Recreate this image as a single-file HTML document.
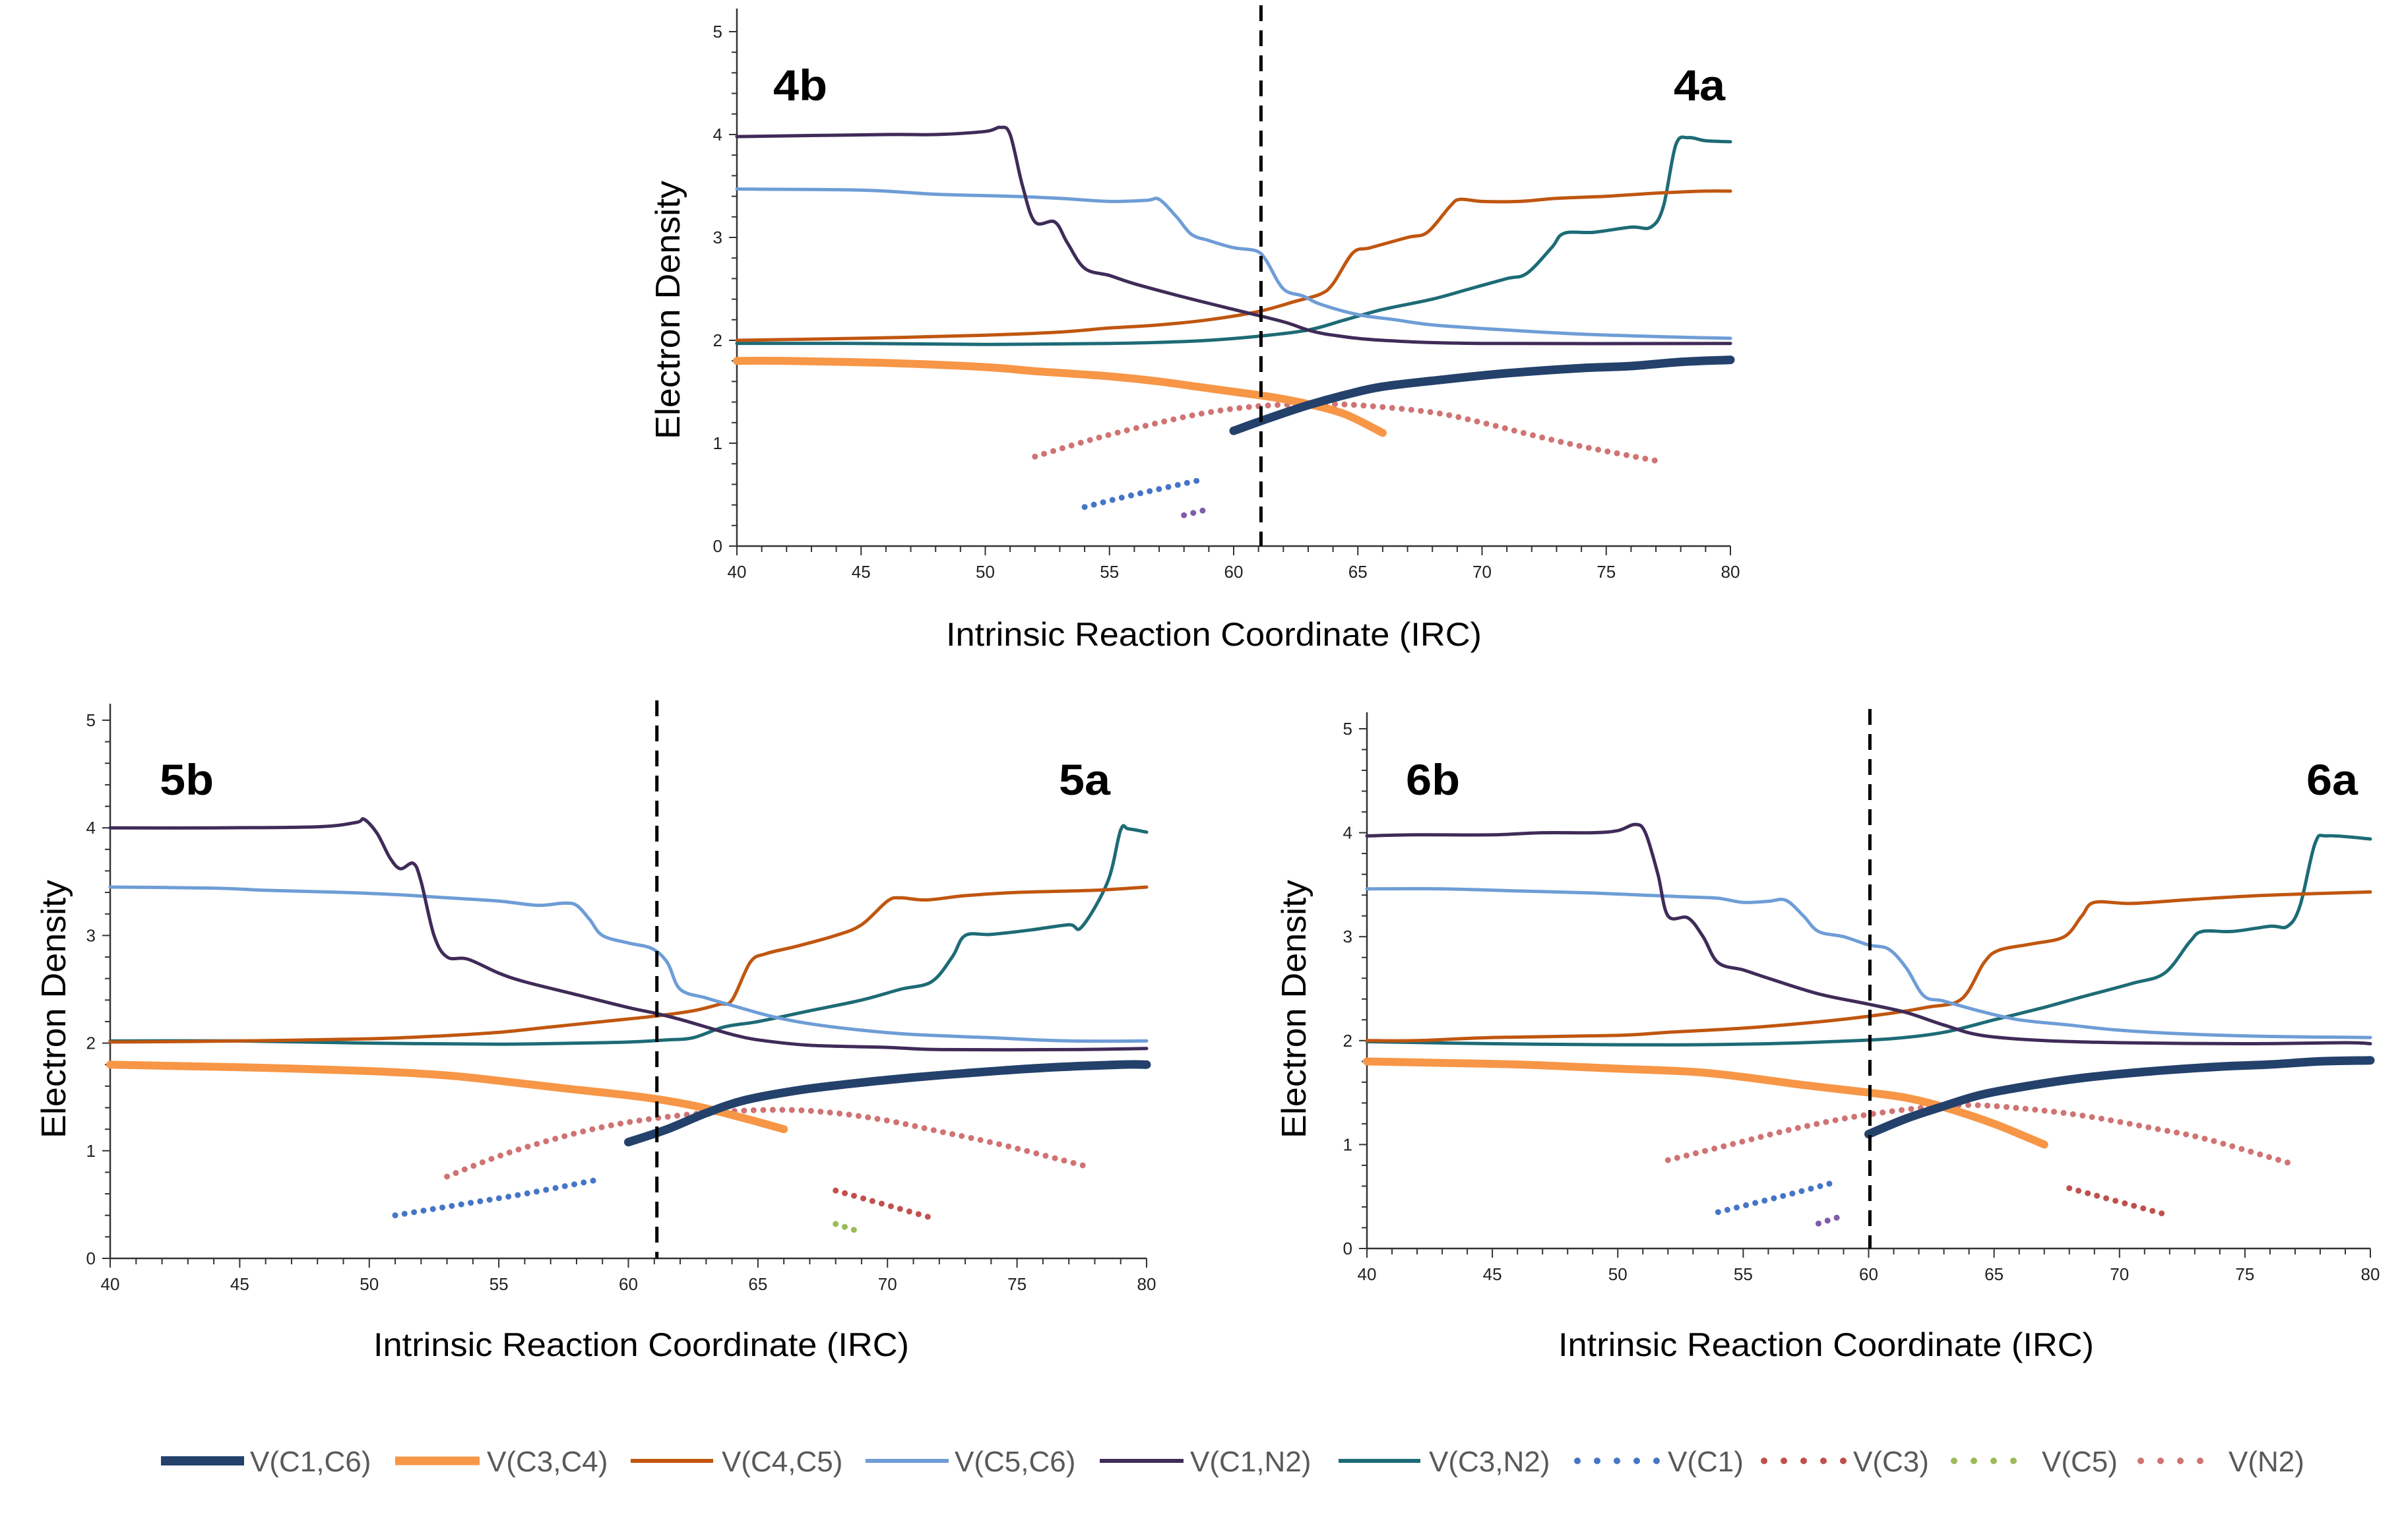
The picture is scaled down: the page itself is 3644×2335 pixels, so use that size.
<!DOCTYPE html>
<html><head><meta charset="utf-8"><style>
html,body{margin:0;padding:0;background:#fff;}
svg{display:block;}
</style></head><body>
<svg id="fig" width="3644" height="2335" viewBox="0 0 3644 2335" xmlns="http://www.w3.org/2000/svg" font-family="'Liberation Sans', sans-serif"></svg>
<script>
// ---------- Data (IRC, electron density) ----------
// Chart 4
const c4_C1C6 = [[60,1.12],[61.5,1.25],[63,1.37],[64.5,1.47],[66,1.55],[68.5,1.62],[71,1.68],[74,1.73],[76,1.75],[78,1.79],[80,1.81]];
const c4_C3C4 = [[40,1.8],[42,1.8],[46,1.78],[50,1.74],[52,1.7],[55,1.65],[57,1.6],[58.5,1.55],[60,1.5],[61.5,1.45],[63,1.38],[64.5,1.28],[66,1.1]];
const c4_C4C5 = [[40,2.0],[45,2.02],[50,2.05],[53,2.08],[55,2.12],[57,2.15],[59,2.2],[61,2.28],[62.5,2.38],[63.5,2.45],[64,2.55],[64.8,2.85],[65.5,2.9],[67,3.0],[67.8,3.05],[68.7,3.3],[69.1,3.37],[70,3.35],[71.5,3.35],[73,3.38],[75,3.4],[77,3.43],[79,3.45],[80,3.45]];
const c4_C5C6 = [[40,3.47],[45,3.46],[48,3.42],[51,3.4],[53,3.38],[55,3.35],[56.5,3.36],[57,3.37],[57.7,3.2],[58.3,3.03],[59,2.97],[60,2.9],[60.9,2.87],[61.3,2.78],[62,2.5],[62.8,2.43],[63.5,2.35],[65,2.25],[66.5,2.2],[68,2.15],[71,2.1],[74,2.06],[78,2.03],[80,2.02]];
const c4_C1N2 = [[40,3.98],[46,4.0],[48,4.0],[50,4.03],[50.6,4.07],[51,4.0],[51.5,3.5],[52,3.15],[52.8,3.15],[53.3,2.95],[54,2.7],[55,2.63],[56,2.55],[58,2.42],[60,2.3],[62,2.18],[63,2.1],[64,2.05],[66,2.0],[70,1.97],[80,1.97]];
const c4_C3N2 = [[40,1.97],[45,1.97],[50,1.96],[55,1.97],[57,1.98],[59,2.0],[61,2.04],[63,2.1],[64.5,2.2],[66,2.3],[68,2.4],[69.5,2.5],[71,2.6],[71.8,2.65],[72.8,2.9],[73.3,3.04],[74.5,3.05],[76,3.1],[76.8,3.1],[77.3,3.3],[77.8,3.9],[78.3,3.97],[79,3.94],[80,3.93]];
const c4_C1 = [[54,0.38],[56,0.5],[58.8,0.65]];
const c4_C3 = [];
const c4_C5 = [];
const c4_N2 = [[52,0.87],[54.5,1.05],[57,1.2],[59,1.3],[61,1.36],[63,1.38],[65,1.37],[68,1.3],[70,1.2],[72,1.08],[74,0.97],[77,0.83]];
const c4_X = [[58,0.3],[59,0.36]];
// Chart 5
const c5_C1C6 = [[60,1.08],[61.5,1.2],[63,1.35],[64.5,1.47],[66.5,1.56],[68.5,1.62],[70.5,1.67],[73,1.72],[76,1.77],[79,1.8],[80,1.8]];
const c5_C3C4 = [[40,1.8],[42,1.79],[46,1.77],[50,1.74],[53,1.7],[55,1.65],[57.5,1.58],[60.5,1.5],[62.5,1.42],[64.5,1.3],[66,1.2]];
const c5_C4C5 = [[40,2.01],[45,2.02],[50,2.04],[53,2.07],[55,2.1],[57,2.15],[59,2.2],[61,2.25],[62.5,2.3],[63.5,2.36],[64,2.4],[64.7,2.75],[65.3,2.83],[66.5,2.9],[68,3.0],[69,3.1],[70,3.32],[70.5,3.35],[71.5,3.33],[73,3.37],[75,3.4],[78,3.42],[80,3.45]];
const c5_C5C6 = [[40,3.45],[44,3.44],[46,3.42],[49,3.4],[51,3.38],[53,3.35],[55,3.32],[56.5,3.28],[57.5,3.3],[58,3.28],[58.5,3.15],[59,3.0],[60,2.93],[60.9,2.88],[61.5,2.75],[62,2.5],[63,2.42],[64,2.35],[65.5,2.25],[67,2.18],[69,2.12],[71,2.08],[74,2.05],[77,2.02],[80,2.02]];
const c5_C1N2 = [[40,4.0],[44,4.0],[48,4.01],[49.5,4.05],[49.8,4.08],[50.3,3.95],[50.8,3.72],[51.2,3.62],[51.7,3.67],[52,3.5],[52.5,3.0],[53,2.8],[53.8,2.78],[55,2.65],[56,2.57],[58,2.45],[60,2.33],[61,2.28],[62,2.22],[63,2.15],[64,2.08],[65,2.03],[67,1.98],[70,1.96],[72,1.94],[77,1.94],[80,1.95]];
const c5_C3N2 = [[40,2.02],[45,2.02],[50,2.0],[55,1.99],[58,2.0],[60,2.01],[61.5,2.03],[62.5,2.05],[63.7,2.15],[65,2.2],[67,2.3],[69,2.4],[70.5,2.5],[71.7,2.57],[72.5,2.8],[73,3.0],[74,3.01],[75.5,3.05],[77,3.1],[77.5,3.08],[78.5,3.5],[79,3.98],[79.3,3.99],[80,3.96]];
const c5_C1 = [[51,0.4],[53.5,0.5],[56,0.6],[58.8,0.73]];
const c5_C3 = [[68,0.63],[71.8,0.37]];
const c5_C5 = [[68,0.32],[68.9,0.25]];
const c5_N2 = [[53,0.76],[55,0.95],[57,1.1],[59,1.22],[61,1.3],[63.5,1.36],[66,1.38],[68,1.35],[70,1.28],[72,1.18],[74.5,1.05],[77.6,0.86]];
const c5_X = [];
// Chart 6
const c6_C1C6 = [[60,1.1],[61.5,1.25],[63,1.37],[64.5,1.48],[66.5,1.57],[68.5,1.64],[71,1.7],[74,1.75],[76,1.77],[78,1.8],[80,1.81]];
const c6_C3C4 = [[40,1.8],[42,1.79],[46,1.77],[50,1.73],[53,1.7],[55,1.65],[57.5,1.57],[60,1.5],[61.5,1.45],[63,1.36],[65,1.2],[67,1.0]];
const c6_C4C5 = [[40,2.0],[42,2.0],[45,2.03],[50,2.05],[52,2.08],[55,2.12],[58,2.18],[60.5,2.25],[62.3,2.32],[63.7,2.4],[64.6,2.75],[65.2,2.87],[66.5,2.93],[67.8,3.0],[68.5,3.2],[69,3.33],[70.5,3.32],[73,3.36],[76,3.4],[80,3.43]];
const c6_C5C6 = [[40,3.46],[43,3.46],[46,3.44],[49,3.42],[51,3.4],[53,3.38],[54,3.37],[55,3.33],[56,3.34],[56.7,3.35],[57.4,3.2],[58,3.05],[59,3.0],[60,2.92],[60.8,2.88],[61.5,2.7],[62.2,2.43],[63,2.38],[64.5,2.28],[66,2.2],[68,2.15],[70,2.1],[73,2.06],[76,2.04],[80,2.03]];
const c6_C1N2 = [[40,3.97],[42,3.98],[45,3.98],[47,4.0],[49,4.0],[50,4.02],[50.7,4.08],[51.1,4.0],[51.6,3.6],[52,3.2],[52.8,3.18],[53.4,3.0],[54,2.75],[55,2.68],[56,2.6],[58,2.45],[60,2.35],[61.5,2.27],[63,2.15],[64.5,2.05],[67,2.0],[70,1.98],[75,1.97],[79,1.98],[80,1.97]];
const c6_C3N2 = [[40,1.99],[45,1.97],[50,1.96],[53,1.96],[56,1.97],[58.5,1.99],[61,2.02],[63,2.08],[65,2.2],[67,2.32],[68.5,2.42],[70.5,2.55],[71.8,2.65],[72.8,2.95],[73.3,3.05],[74.5,3.05],[76,3.1],[76.7,3.1],[77.2,3.3],[77.8,3.9],[78.3,3.97],[80,3.94]];
const c6_C1 = [[54,0.35],[56.5,0.5],[58.7,0.64]];
const c6_C3 = [[68,0.58],[71.8,0.33]];
const c6_C5 = [];
const c6_N2 = [[52,0.85],[54.5,1.0],[57,1.15],[59.5,1.27],[62,1.35],[64,1.38],[66,1.35],[68.5,1.28],[71.5,1.15],[73.5,1.05],[76.8,0.82]];
const c6_X = [[58,0.24],[58.9,0.31]];

const xTicks = [40,45,50,55,60,65,70,75,80];
const yTicks = [0,1,2,3,4,5];
const legendLabels = ['V(C1,C6)','V(C3,C4)','V(C4,C5)','V(C5,C6)','V(C1,N2)','V(C3,N2)','V(C1)','V(C3)','V(C5)','V(N2)'];

const NS='http://www.w3.org/2000/svg';
const svg=document.getElementById('fig');
function mk(tag,attrs,parent){const e=document.createElementNS(NS,tag);for(const k in attrs)e.setAttribute(k,attrs[k]);(parent||svg).appendChild(e);return e;}

const styles = {
  C1C6:{c:'#24416B',w:13,dot:false},
  C3C4:{c:'#F79646',w:12,dot:false},
  C4C5:{c:'#C0560F',w:5,dot:false},
  C5C6:{c:'#6E9DD6',w:5,dot:false},
  C1N2:{c:'#3F2B58',w:5,dot:false},
  C3N2:{c:'#1D6B76',w:5,dot:false},
  C1:{c:'#4575C6',w:9,dot:true},
  C3:{c:'#C0504D',w:9,dot:true},
  C5:{c:'#9BBB59',w:9,dot:true},
  N2:{c:'#D07373',w:9,dot:true},
  X:{c:'#7F5BA8',w:9,dot:true}
};

function smoothPath(pts){
  if(pts.length<2)return '';
  let d='M'+pts[0][0]+','+pts[0][1];
  for(let i=0;i<pts.length-1;i++){
    const p0=pts[i-1]||pts[i],p1=pts[i],p2=pts[i+1],p3=pts[i+2]||p2;
    const c1x=p1[0]+(p2[0]-p0[0])/6,c1y=p1[1]+(p2[1]-p0[1])/6;
    const c2x=p2[0]-(p3[0]-p1[0])/6,c2y=p2[1]-(p3[1]-p1[1])/6;
    d+=' C'+c1x.toFixed(1)+','+c1y.toFixed(1)+' '+c2x.toFixed(1)+','+c2y.toFixed(1)+' '+p2[0].toFixed(1)+','+p2[1].toFixed(1);
  }
  return d;
}

function drawChart(cfg){
  const g=mk('g',{});
  
  
  const X=v=>cfg.x0+(v-40)/40*(cfg.x1-cfg.x0);
  const Y=v=>cfg.y0-(v/5)*(cfg.y0-cfg.y5);
  const ya=mk('line',{x1:cfg.x0,y1:cfg.y0,x2:cfg.x0,y2:cfg.ytop,stroke:'#333',"stroke-width":2.5},g);
  
  
  const xa=mk('line',{x1:cfg.x0,y1:cfg.y0,x2:cfg.x1,y2:cfg.y0,stroke:'#333',"stroke-width":2.5},g);
  
  
  for(let v=40;v<=80;v++){mk('line',{x1:X(v),y1:cfg.y0,x2:X(v),y2:cfg.y0+(v%5===0?14:9),stroke:'#333',"stroke-width":2},g);}
  for(let k=0;k<=25;k++){const v=k*0.2;mk('line',{x1:cfg.x0,y1:Y(v),x2:cfg.x0-(k%5===0?12:8),y2:Y(v),stroke:'#333',"stroke-width":2},g);}
  xTicks.forEach(v=>{const t=mk('text',{x:X(v),y:cfg.y0+48,"font-size":26,"text-anchor":"middle",fill:'#222'},g);t.textContent=v;
    
    });
  yTicks.forEach(v=>{const t=mk('text',{x:cfg.x0-22,y:Y(v)+9,"font-size":26,"text-anchor":"end",fill:'#222'},g);t.textContent=v;
    
    });
  const yt=mk('text',{x:0,y:0,"font-size":52,"text-anchor":"middle","dominant-baseline":"central",fill:'#000',transform:`translate(${cfg.ytx},${cfg.yty}) rotate(-90)`,textLength:392,lengthAdjust:'spacingAndGlyphs'},g);
  yt.textContent='Electron Density';
  
  
  const xt=mk('text',{x:cfg.xtx,y:cfg.xty+17,"font-size":50,"text-anchor":"middle",fill:'#000',textLength:812,lengthAdjust:'spacingAndGlyphs'},g);
  xt.textContent='Intrinsic Reaction Coordinate (IRC)';
  
  
  const lb=mk('text',{x:cfg.lbx,y:cfg.lby+24,"font-size":66,"font-weight":"bold","text-anchor":"middle",fill:'#000',textLength:82,lengthAdjust:'spacingAndGlyphs'},g);
  lb.textContent=cfg.id+'b';
  
  
  const la=mk('text',{x:cfg.lax,y:cfg.lby+24,"font-size":66,"font-weight":"bold","text-anchor":"middle",fill:'#000',textLength:78,lengthAdjust:'spacingAndGlyphs'},g);
  la.textContent=cfg.id+'a';
  
  
  const order=['C3N2','C4C5','C5C6','C1N2','N2','C1','X','C3','C5','C3C4','C1C6'];
  order.forEach(k=>{
    const data=cfg.series[k]; if(!data||data.length<2)return;
    const st=styles[k];
    const pts=data.map(p=>[X(p[0]),Y(p[1])]);
    const attrs={d:smoothPath(pts),fill:'none',stroke:st.c,"stroke-width":st.w,"stroke-linecap":"round","stroke-linejoin":"round"};
    if(st.dot)attrs["stroke-dasharray"]="0 14.5";
    const p=mk('path',attrs,g);
    
    
  });
  const dl=mk('line',{x1:X(cfg.ts),y1:cfg.ytop-5,x2:X(cfg.ts),y2:cfg.y0,stroke:'#000',"stroke-width":5,"stroke-dasharray":"24 14"},g);
  
  
}

drawChart({id:'4',x0:1117,x1:2623,y0:828,y5:48,ytop:13,ts:61.1,ytx:1013,yty:470,xtx:1840,xty:962,lbx:1213,lax:2576,lby:128,
  series:{C1C6:c4_C1C6,C3C4:c4_C3C4,C4C5:c4_C4C5,C5C6:c4_C5C6,C1N2:c4_C1N2,C3N2:c4_C3N2,C1:c4_C1,C3:c4_C3,C5:c4_C5,N2:c4_N2,X:c4_X}});
drawChart({id:'5',x0:167,x1:1738,y0:1908,y5:1092,ytop:1067,ts:61.1,ytx:82,yty:1530,xtx:972,xty:2039,lbx:283,lax:1644,lby:1181,
  series:{C1C6:c5_C1C6,C3C4:c5_C3C4,C4C5:c5_C4C5,C5C6:c5_C5C6,C1N2:c5_C1N2,C3N2:c5_C3N2,C1:c5_C1,C3:c5_C3,C5:c5_C5,N2:c5_N2,X:c5_X}});
drawChart({id:'6',x0:2072,x1:3593,y0:1893,y5:1105,ytop:1080,ts:60.05,ytx:1962,yty:1530,xtx:2768,xty:2039,lbx:2172,lax:3535,lby:1181,
  series:{C1C6:c6_C1C6,C3C4:c6_C3C4,C4C5:c6_C4C5,C5C6:c6_C5C6,C1N2:c6_C1N2,C3N2:c6_C3N2,C1:c6_C1,C3:c6_C3,C5:c6_C5,N2:c6_N2,X:c6_X}});

const legKeys=['C1C6','C3C4','C4C5','C5C6','C1N2','C3N2','C1','C3','C5','N2'];
const legSw=[[244,370],[599,727],[956,1081],[1312,1438],[1667,1794],[2029,2153],[2387,2515],[2670,2799],[2958,3056],[3241,3339]];
const legTx=[379,738,1094,1447,1804,2166,2528,2809,3095,3378];
const lg=mk('g',{});


legKeys.forEach((k,i)=>{
  const st=styles[k];
  const e=mk('g',{},lg);
  
  
  const a={x1:legSw[i][0]+(st.dot?4:0),y1:2215,x2:legSw[i][1],y2:2215,stroke:st.c,"stroke-width":st.dot?10:(st.w+1),"stroke-linecap":st.dot?'round':'butt'};
  if(st.dot)a["stroke-dasharray"]="0 30";
  mk('line',a,e);
  const t=mk('text',{x:legTx[i],y:2231,"font-size":44,fill:'#595959'},e);
  t.textContent=legendLabels[i];
});
</script>
</body></html>
